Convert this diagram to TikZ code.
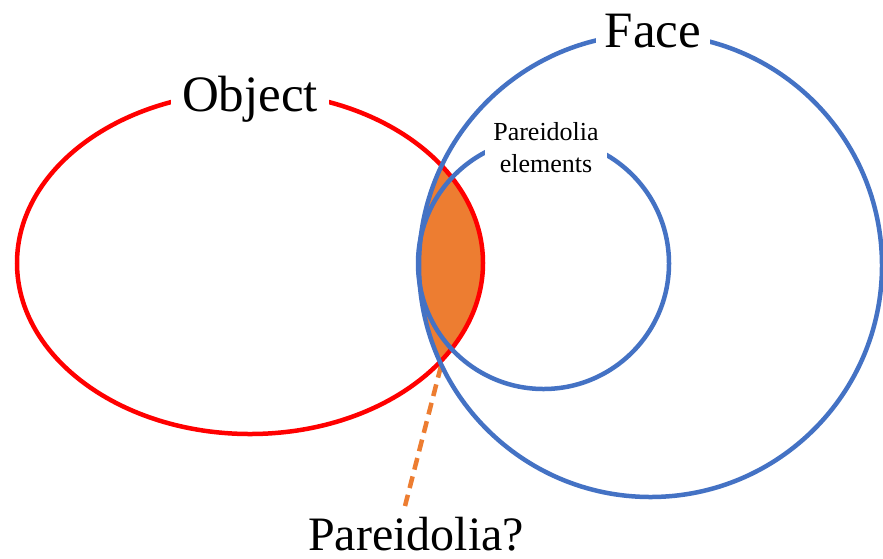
\documentclass[tikz,border=0pt]{standalone}
\usepackage{fontspec}
\setmainfont{Liberation Serif}
\definecolor{pred}{HTML}{FF0000}
\definecolor{pblue}{HTML}{4472C4}
\definecolor{porange}{HTML}{ED7D31}
\tikzset{
  redline/.style={draw=pred,line width=4.5pt},
  blueline/.style={draw=pblue,line width=4.5pt},
  biglabel/.style={fill=white,inner sep=9pt,font=\fontsize{51}{60}\selectfont},
  smalllabel/.style={fill=white,inner sep=8pt,align=center,font=\fontsize{26}{32}\selectfont},
}
\begin{document}
\begin{tikzpicture}[x=1pt,y=-1pt]
\useasboundingbox (0,0) rectangle (883,558);
% intersection fill
\begin{scope}
  \clip (250,263) ellipse [x radius=233, y radius=171];
  \fill[porange] (650.5,265.5) circle [radius=231.5];
\end{scope}
% dashed pointer
\coordinate (p1) at (441,366);
\coordinate (p2) at (405,506);
\draw[porange,line width=4.5pt,dash pattern=on 12pt off 7pt] (p1) -- (p2);
% shapes
\draw[redline] (250,263) ellipse [x radius=233, y radius=171];
\draw[blueline] (543.5,263.5) circle [radius=125.5];
% labels
\node[smalllabel,anchor=base] (pe) at (546,172) {Pareidolia\\elements};
\draw[blueline] (650.5,265.5) circle [radius=231.5];
\node[biglabel,anchor=base,inner xsep=11pt] (obj) at (250,111) {Object};
\node[biglabel,anchor=base] (face) at (653,47) {Face};
\node[font=\fontsize{48}{58}\selectfont,anchor=base,inner sep=0pt] (q) at (416,550) {Pareidolia?};
\end{tikzpicture}
\end{document}
